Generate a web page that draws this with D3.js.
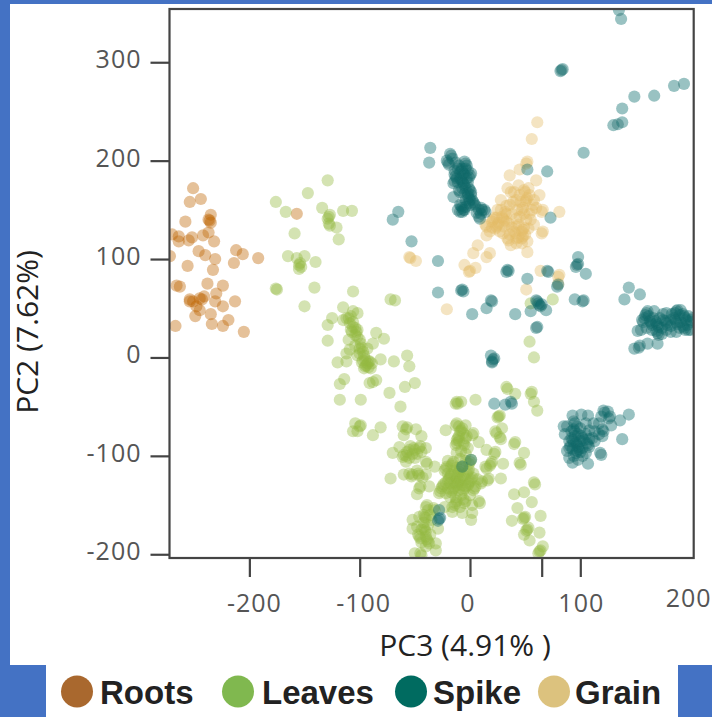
<!DOCTYPE html>
<html>
<head>
<meta charset="utf-8">
<title>PCA PC3 vs PC2</title>
<script src="https://d3js.org/d3.v7.min.js"></script>
<style>
    body { margin: 0; background: #4472c4; }
    svg { display: block; }
    .tick-label { font: 25px "Open Sans", sans-serif; fill: #555; }
    .axis-title { font: 30px "Open Sans", sans-serif; fill: #222; }
    .legend-label { font: bold 33px "Liberation Sans", sans-serif; fill: #222; }
</style>
</head>
<body>
<svg width="712" height="717"></svg>
<script>
// values, [PC3, PC2]
var roots = [[-251,172],[-244,161],[-254,158],[-235,145],[-236,139],[-235,137],[-237,140],[-258,138],[-270,125],[-264,123],[-264,118],[-255,119],[-252,122],[-242,124],[-237,127],[-232,118],[-246,108],[-240,104],[-212,109],[-206,105],[-231,100],[-192,101],[-272,103],[-214,96],[-256,93],[-233,89],[-238,75],[-224,73],[-266,73],[-263,72],[-230,65],[-241,62],[-254,59],[-245,60],[-213,57],[-254,57],[-251,57],[-243,59],[-231,57],[-224,52],[-248,52],[-245,48],[-249,42],[-235,44],[-234,34],[-224,32],[-219,38],[-267,32],[-205,26],[-157,146]];

var leaves = [[-129,180],[-147,167],[-176,158],[-167,148],[-134,152],[-128,143],[-127,145],[-129,141],[-128,136],[-127,134],[-121,132],[-115,149],[-107,149],[-119,120],[-159,126],[-165,103],[-157,101],[-150,103],[-154,96],[-153,92],[-155,94],[-155,90],[-140,97],[-141,71],[-106,67],[-176,70],[-175,69],[-150,52],[-115,51],[-125,40],[-129,33],[-129,17],[-120,-5],[-112,-4],[-114,-22],[-118,-27],[-118,-43],[-106,-75],[-104,-67],[-115,38],[-110,40],[-109,35],[-106,31],[-107,26],[-104,23],[-110,18],[-109,8],[-112,4],[-106,47],[-102,45],[-103,26],[-102,21],[-100,9],[-99,14],[-102,2],[-97,-3],[-94,-8],[-93,-6],[-95,-9],[-92,-10],[-96,-11],[-91,-4],[-90,-11],[-100,4],[-97,6],[-85,25],[-78,19],[-88,14],[-93,9],[-81,-2],[-69,-4],[-57,2],[-55,-9],[-85,-23],[-91,-26],[-88,-25],[-50,-26],[-59,-30],[-73,-36],[-99,-43],[-63,-50],[-100,-70],[-102,-75],[-99,-69],[-81,-71],[-88,-79],[-72,59],[-68,58],[54,16],[58,0],[75,59],[55,55],[34,-32],[33,-30],[41,-37],[55,-37],[56,-35],[58,-45],[61,-54],[5,-43],[-13,-47],[-12,-45],[-11,-47],[-8,-45],[26,-60],[27,-59],[25,-61],[29,-72],[24,-77],[23,-75],[28,-83],[27,-81],[40,-88],[41,-86],[49,-97],[46,-109],[45,-107],[59,-129],[58,-127],[49,-137],[40,-139],[56,-147],[43,-153],[64,-161],[38,-166],[49,-163],[50,-162],[48,-164],[52,-175],[53,-173],[51,-176],[49,-180],[63,-178],[54,-186],[63,-197],[62,-199],[64,-196],[66,-192],[-61,-70],[-58,-73],[-57,-71],[-49,-73],[-60,-79],[-44,-80],[-64,-91],[-70,-97],[-61,-101],[-60,-99],[-57,-96],[-55,-94],[-50,-94],[-51,-92],[-46,-92],[-45,-90],[-40,-92],[-55,-102],[-58,-106],[-40,-106],[-39,-108],[-32,-111],[-60,-119],[-72,-123],[-52,-119],[-53,-121],[-46,-120],[-47,-118],[-40,-119],[-46,-133],[-45,-131],[-48,-139],[-37,-131],[-40,-152],[-39,-150],[-41,-162],[-42,-160],[-40,-163],[-46,-162],[-52,-165],[-52,-174],[-46,-182],[-47,-180],[-45,-184],[-41,-175],[-40,-177],[-42,-173],[-38,-187],[-39,-185],[-37,-189],[-31,-189],[-31,-196],[-50,-199],[-44,-201],[-45,-199],[-32,-155],[-33,-153],[-29,-174],[-35,-165],[-13,-69],[-12,-67],[-4,-69],[-22,-74],[-8,-74],[-7,-72],[-9,-75],[2,-79],[3,-77],[-11,-82],[-10,-80],[-12,-84],[-4,-82],[-3,-80],[-13,-89],[-12,-87],[8,-86],[-5,-89],[-6,-87],[15,-94],[22,-98],[23,-96],[30,-108],[19,-108],[20,-106],[18,-110],[15,-113],[14,-111],[28,-123],[16,-125],[17,-123],[10,-128],[11,-126],[0,-106],[-1,-108],[1,-104],[-16,-108],[-15,-106],[-17,-110],[-22,-113],[-21,-111],[-23,-115],[-10,-116],[-9,-114],[-11,-118],[-8,-112],[-2,-116],[-1,-114],[-3,-118],[-19,-123],[-18,-121],[-20,-125],[-17,-119],[-10,-126],[-9,-124],[-11,-128],[-8,-122],[-12,-123],[0,-126],[1,-124],[-1,-128],[2,-122],[-25,-131],[-24,-129],[-26,-133],[-16,-135],[-15,-133],[-17,-137],[-14,-131],[-5,-133],[-4,-131],[-6,-135],[4,-133],[5,-131],[3,-135],[-28,-138],[-27,-136],[8,-146],[9,-148],[-13,-148],[-12,-146],[-14,-150],[-5,-148],[-4,-146],[2,-150],[-16,-157],[-7,-158],[2,-158],[1,-165],[-23,-152],
    [-20,-118],[-14,-120],[-6,-120],[-4,-124],[-14,-127],[-18,-128],[-22,-127],[-12,-130],[-7,-130],[-2,-130],[-20,-133],[-10,-135],[-12,-112],[-6,-110],[-14,-115],[-4,-105],[-9,-103],[-4,-98],[-8,-95],[-2,-92],[-12,-97],[-10,-85],[-6,-77],[-10,-70],[-20,-105],[3,-118],[7,-124],[-22,-138],[-18,-142],[-8,-140],[0,-140],[-13,-142],[-6,-144],[-16,-152],[-9,-152],[-42,-168],[-38,-170],[-44,-175],[-40,-182],[-36,-180],[-44,-188],[-40,-192],[-36,-160],[-38,-155],[-48,-172],[-52,-98],[-48,-98],[-50,-102],[-54,-90],[-58,-100],[-44,-96],[-55,-118],[-48,-115],[-43,-122],[-104,30],[-102,28],[-106,36],[-108,42],[-100,18],[-98,10],[-96,2],[-95,-2],[-92,-4],[-89,-6],[-98,-5],[-104,12],[-112,40],[-108,28]];

var spike = [[135,353],[137,344],[83,292],[82,291],[84,293],[194,278],[185,276],[167,266],[149,265],[138,253],[138,239],[134,237],[130,236],[103,208],[70,189],[52,191],[-36,213],[-37,198],[-18,207],[-17,205],[-20,198],[-21,200],[-19,196],[-4,197],[-3,195],[-5,199],[-8,190],[-7,192],[-9,188],[-6,187],[0,185],[1,187],[-1,183],[-13,184],[-12,182],[-14,186],[-7,179],[-6,177],[-8,181],[-5,175],[-14,179],[-15,177],[0,170],[1,168],[-1,172],[-10,170],[-9,168],[-15,163],[-1,162],[0,160],[-2,164],[3,158],[4,156],[2,160],[-7,152],[-6,150],[-8,154],[-1,157],[0,155],[10,152],[11,150],[13,150],[14,148],[8,143],[9,141],[-7,148],[-5,150],[73,142],[-65,148],[-70,140],[-53,118],[-29,98],[-29,66],[-7,69],[-6,67],[-8,68],[34,89],[33,87],[35,88],[52,80],[70,88],[71,87],[80,74],[79,72],[98,102],[97,94],[96,92],[98,95],[105,85],[144,71],[154,64],[140,59],[19,58],[20,57],[15,50],[2,44],[41,44],[55,47],[61,57],[62,55],[60,58],[63,53],[64,52],[65,54],[69,48],[95,59],[102,57],[103,58],[61,31],[60,30],[19,2],[21,-2],[20,-4],[22,-1],[20,-5],[22,-47],[32,-48],[38,-47],[37,-45],[160,45],[159,43],[161,47],[167,47],[157,36],[156,38],[164,35],[165,33],[163,37],[152,27],[170,33],[171,31],[169,35],[170,25],[171,23],[169,27],[178,35],[179,33],[177,37],[178,45],[187,47],[186,45],[188,48],[187,36],[186,38],[188,34],[185,40],[194,42],[195,40],[193,44],[196,38],[194,30],[195,28],[193,32],[200,38],[201,36],[202,40],[200,28],[182,26],[149,9],[154,12],[153,10],[161,14],[170,14],[93,-59],[101,-58],[107,-59],[122,-56],[121,-54],[126,-62],[127,-60],[144,-58],[136,-64],[128,-69],[95,-67],[94,-65],[105,-67],[86,-78],[95,-75],[94,-73],[108,-74],[121,-75],[120,-73],[117,-67],[120,-80],[138,-83],[93,-84],[92,-82],[94,-86],[102,-82],[101,-80],[103,-84],[98,-91],[97,-89],[99,-93],[96,-87],[107,-89],[106,-87],[108,-91],[113,-85],[90,-92],[91,-90],[96,-97],[97,-95],[90,-102],[105,-97],[119,-99],[118,-97],[98,-104],[107,-108],[111,-82],[-28,-155],[-28,-164],[-29,-166],[-27,-163],[1,-104],[-7,-111],
    [-16,202],[-13,198],[-10,195],[-11,192],[-14,190],[-4,192],[-2,190],[-5,186],[-9,182],[-11,178],[-3,182],[-2,178],[-4,172],[-7,172],[-2,167],[-5,166],[1,165],[-4,160],[-9,155],[-4,153],[5,154],[8,150],[6,147],[10,146],[-11,150],[-9,148],
    [158,40],[162,42],[166,40],[172,40],[175,38],[174,30],[178,28],[182,32],[182,38],[183,44],[190,43],[191,36],[190,30],[197,33],[198,42],[198,28],[174,24],[165,28],[160,30],[155,28],[191,48],[168,37],[175,44],[187,26],
    [88,-70],[100,-72],[105,-78],[98,-78],[90,-85],[95,-80],[100,-85],[88,-95],[93,-93],[102,-92],[102,-100],[108,-83],[113,-75],[112,-67],[117,-78],[125,-55],[119,-60],[92,-75],[97,-70],[85,-70],[100,-96],[94,-100],[93,-107]];

var grain = [[61,239],[56,222],[52,199],[51,197],[45,191],[36,185],[60,180],[37,168],[49,170],[50,168],[63,165],[28,160],[39,158],[51,160],[50,158],[52,162],[57,155],[66,150],[65,148],[81,148],[25,150],[33,146],[32,148],[48,152],[47,150],[54,146],[30,141],[29,143],[31,139],[21,140],[20,138],[22,142],[42,141],[51,140],[15,133],[14,135],[24,133],[23,131],[25,135],[31,133],[48,130],[47,128],[49,132],[40,128],[41,126],[66,128],[65,126],[34,121],[35,119],[48,123],[47,121],[42,121],[15,124],[7,114],[3,106],[18,106],[15,102],[52,107],[-55,102],[-54,101],[-49,98],[-5,94],[5,91],[0,88],[-1,87],[64,88],[81,84],[80,82],[51,69],[-21,49],[80,75],
    [20,132],[26,137],[33,138],[38,146],[43,150],[36,155],[42,160],[45,165],[54,165],[58,160],[60,152],[55,140],[58,135],[44,135],[38,132],[30,126],[36,125],[44,122],[50,125],[53,131],[18,128],[27,128],[45,143],[49,146],[24,142],[28,150],[33,154],[56,150],[46,158],[40,168],[34,172],[44,175],[53,172],[42,133],[35,136],[52,118],[42,116],[37,114],[47,116]];

var xTicks = [-200, -100, 0, 65, 100];
var yTicks = [300, 200, 100, 0, -100, -200];
var xLabels = ["-200", "-100", "0", "100", "200"];
var xLabelValues = [-200, -100, 0, 100, 200];
var xLabelShift = [5, 4, -2, 1, -2];
var xLabelLift = [0, 0, 0, 0, 5];
var groupNames = ["Roots", "Leaves", "Spike", "Grain"];
var groupDots = ["#a9682e", "#80b84f", "#006b60", "#dcc27e"];
var groupFills = ["#be6404", "#94ba42", "#10696a", "#e3bb66"];
var legendDotX = [77, 238, 411, 554];
var legendTextX = [100, 262, 433, 575];

var svg = d3.select("svg");

svg.append("rect").attr("x", 10).attr("y", 4).attr("width", 702).attr("height", 661).attr("fill", "#fff");
svg.append("rect").attr("x", 46).attr("y", 665).attr("width", 632).attr("height", 52).attr("fill", "#fff");

var x = d3.scaleLinear().domain([-272.4, 202.8]).range([169.5, 693.7]);
var y = d3.scaleLinear().domain([-203.8, 354.1]).range([558, 9]);

svg.append("clipPath").attr("id", "plot")
    .append("rect")
    .attr("x", x.range()[0]).attr("y", y.range()[1])
    .attr("width", x.range()[1] - x.range()[0])
    .attr("height", y.range()[0] - y.range()[1]);

// the reference is a soft scan, so the dots get a slight blur
svg.append("filter").attr("id", "soft")
    .append("feGaussianBlur").attr("stdDeviation", 0.5);

var plot = svg.append("g").attr("clip-path", "url(#plot)")
    .append("g").attr("filter", "url(#soft)");

function drawDots(points, fill) {
    plot.append("g").selectAll("circle")
        .data(points)
        .enter().append("circle")
        .attr("cx", function (d) { return x(d[0]); })
        .attr("cy", function (d) { return y(d[1]); })
        .attr("r", 6.1)
        .attr("fill", fill)
        .attr("fill-opacity", 0.4);
}

drawDots(roots, groupFills[0]);
drawDots(leaves, groupFills[1]);
drawDots(grain, groupFills[3]);
drawDots(spike, groupFills[2]);

// frame
svg.append("rect")
    .attr("x", x.range()[0]).attr("y", y.range()[1])
    .attr("width", x.range()[1] - x.range()[0])
    .attr("height", y.range()[0] - y.range()[1])
    .attr("fill", "none")
    .attr("stroke", "#444")
    .attr("stroke-width", 2.2);

var xAxis = svg.append("g")
    .attr("transform", "translate(0," + y.range()[0] + ")")
    .call(d3.axisBottom(x).tickValues(xTicks).tickSize(19).tickFormat(""));
var yAxis = svg.append("g")
    .attr("transform", "translate(" + x.range()[0] + ",0)")
    .call(d3.axisLeft(y).tickValues(yTicks).tickSize(19).tickFormat(function (d) { return d; }));

xAxis.select(".domain").remove();
yAxis.select(".domain").remove();
svg.selectAll(".tick line").attr("stroke", "#444").attr("stroke-width", 2.2);

yAxis.selectAll("text")
    .attr("class", "tick-label")
    .attr("x", -28)
    .attr("dy", "0.22em")
    .attr("letter-spacing", "1px");

svg.append("g").selectAll("text")
    .data(xLabels)
    .enter().append("text")
    .attr("class", "tick-label")
    .attr("text-anchor", "middle")
    .attr("letter-spacing", "1px")
    .attr("x", function (d, i) { return x(xLabelValues[i]) + xLabelShift[i]; })
    .attr("y", function (d, i) { return 612 - xLabelLift[i]; })
    .text(function (d) { return d; });

svg.append("text")
    .attr("class", "axis-title")
    .attr("x", 465).attr("y", 656)
    .attr("text-anchor", "middle")
    .text("PC3 (4.91% )");

svg.append("text")
    .attr("class", "axis-title")
    .attr("transform", "translate(38,332) rotate(-90)")
    .attr("text-anchor", "middle")
    .text("PC2 (7.62%)");

var legend = svg.append("g").selectAll("g")
    .data(groupNames)
    .enter().append("g");

legend.append("circle")
    .attr("cx", function (d, i) { return legendDotX[i]; })
    .attr("cy", 691.5)
    .attr("r", 16)
    .attr("fill", function (d, i) { return groupDots[i]; });

legend.append("text")
    .attr("class", "legend-label")
    .attr("x", function (d, i) { return legendTextX[i]; })
    .attr("y", 704)
    .text(function (d) { return d; });
</script>
</body>
</html>
